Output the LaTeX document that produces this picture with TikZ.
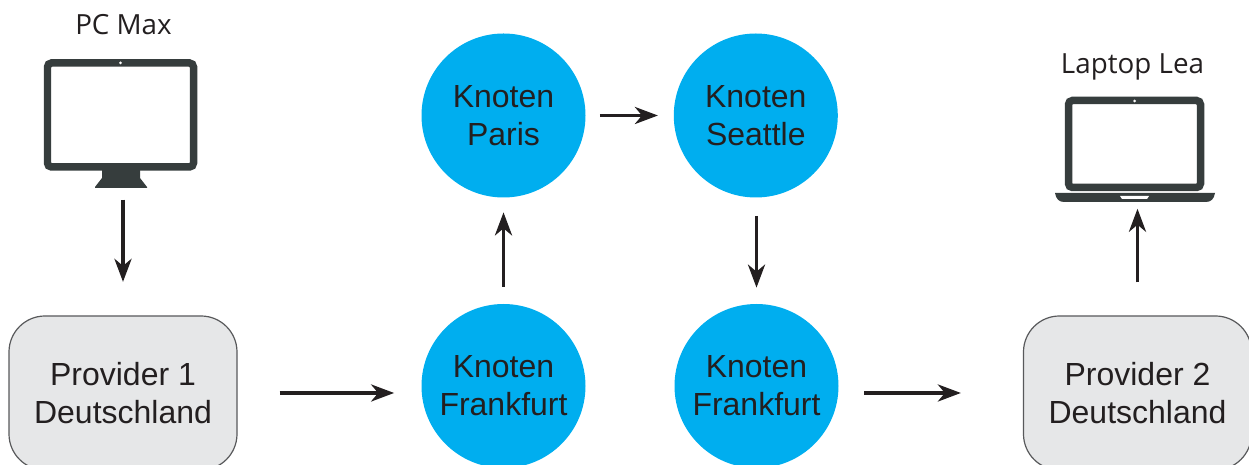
\documentclass[tikz,border=0pt]{standalone}
\usepackage{fontspec}
\setmainfont{Liberation Sans}
\newfontfamily\devfont{Open Sans}
\usetikzlibrary{arrows.meta}
\definecolor{knotenblue}{HTML}{00AEEF}
\definecolor{providergray}{HTML}{E6E7E8}
\definecolor{providerline}{HTML}{58595B}
\definecolor{icondark}{HTML}{363D3D}
\definecolor{arrowdark}{HTML}{231F20}
\tikzset{
   knoten/.style={circle,fill=knotenblue,minimum size=164*0.02cm,inner sep=0pt,align=center,
      font=\fontsize{18.2}{21.6}\selectfont,text=arrowdark},
   provider/.style={draw=providerline,line width=0.024cm,fill=providergray,rounded corners=0.72cm,
      minimum width=228*0.02cm,minimum height=154*0.02cm,inner sep=0pt,align=center,
      font=\fontsize{18.2}{21.6}\selectfont,text=arrowdark},
   device/.style={font=\devfont\fontsize{15.8}{18}\selectfont,text=arrowdark,inner sep=0pt},
   screen/.style={draw=icondark,line width=0.15cm,fill=white,rounded corners=0.08cm,inner sep=0pt},
   link/.style={-{Stealth[length=0.46cm,width=0.34cm,inset=0.14cm]},draw=arrowdark,line width=0.075cm}
}
\begin{document}
\begin{tikzpicture}[x=0.02cm,y=-0.02cm]
   \useasboundingbox (0,0) rectangle (1249,465);
   % devices
   \node (pcmax) [device] at (123.5,25) {PC Max};
   \node (lea) [device] at (1132.5,67) {Laptop Lea};
   \fill [icondark] (102,168) -- (140,168) -- (140,178) -- (147,187) -- (147,188) -- (95,188) -- (95,187) -- (102,178) -- cycle;
   \node (pc) [screen,minimum width=146*0.02cm,minimum height=104*0.02cm] at (120.5,115) {};
   \fill [white] (120.5,63) circle (1.5);
   \node (laptop) [screen,minimum width=132*0.02cm,minimum height=87*0.02cm] at (1134.5,144) {};
   \fill [white] (1134.5,101) circle (1.5);
   \fill [icondark] (1055,193) -- (1215,193) .. controls (1214,199) and (1211,202) .. (1206,202) -- (1064,202) .. controls (1059,202) and (1056,199) .. (1055,193) -- cycle;
   \fill [white] (1120,196) -- (1149,196) -- (1147,199) -- (1122,199) -- cycle;
   % provider and knoten
   \node (provA) [provider] at (123,393) {Provider 1\\Deutschland};
   \node (provB) [provider] at (1137.5,393) {Provider 2\\Deutschland};
   \node (ffmA) [knoten] at (503.5,386) {Knoten\\Frankfurt};
   \node (paris) [knoten] at (503.5,115.5) {Knoten\\Paris};
   \node (seattle) [knoten] at (755.8,115.5) {Knoten\\Seattle};
   \node (ffmB) [knoten] at (756.5,386) {Knoten\\Frankfurt};
   % arrows
   \draw [link,shorten <=29*0.02cm,shorten >=33.5*0.02cm] (provA.north |- pc.south) -- (provA.north);
   \draw [link,shorten <=33*0.02cm,shorten >=17.5*0.02cm] (provB.north) -- (provB.north |- laptop.south);
   \draw [link,shorten <=42*0.02cm,shorten >=27*0.02cm] (provA.east) -- (provA.east -| ffmA.west);
   \draw [link,shorten <=17*0.02cm,shorten >=14.5*0.02cm] (ffmA.north) -- (paris.south);
   \draw [link,shorten <=14*0.02cm,shorten >=15.5*0.02cm] (paris.east) -- (seattle.west);
   \draw [link,shorten <=18*0.02cm,shorten >=16*0.02cm] (seattle.south -| ffmB.north) -- (ffmB.north);
   \draw [link,shorten <=25.5*0.02cm,shorten >=62*0.02cm] (ffmB.east |- provB.west) -- (provB.west);
\end{tikzpicture}
\end{document}
